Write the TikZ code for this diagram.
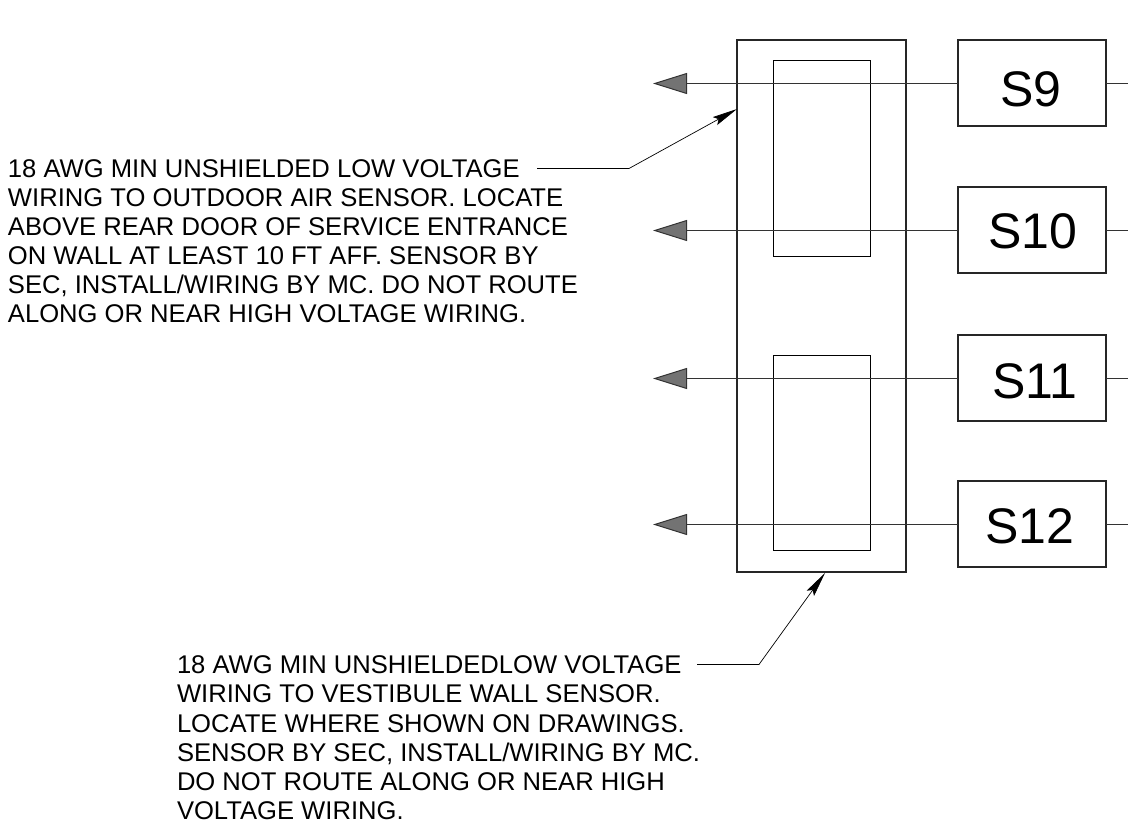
\documentclass[tikz,border=0pt]{standalone}
\usepackage{fontspec}
\setmainfont{Liberation Sans}
\usetikzlibrary{arrows.meta}

\begin{document}
\begin{tikzpicture}[x=1pt, y=-1pt,
    %Styles for the schedule
    >=Stealth,
    inner sep=0pt, outer sep=0pt,
    frame/.style={draw=black!85, line width=1.2pt},
    inset/.style={draw=black, line width=1pt},
    sensor/.style={draw=black!85, line width=1.1pt, minimum width=148pt, minimum height=86pt},
    sensortext/.style={font=\fontsize{50}{50}\selectfont},
    wire/.style={line width=1pt, draw=black!80, -{Triangle[length=34pt, width=21pt, fill=black!55]}},
    stub/.style={line width=1pt, draw=black!80},
    leader/.style={line width=0.7pt, ->, >={Stealth[length=25pt, width=9pt, inset=4pt]}},
    note/.style={anchor=north west, align=left, font=\fontsize{25.6}{29.1}\selectfont},
]
    \useasboundingbox (0,0) rectangle (1128,824);

    % Enclosure
    \node[frame, anchor=north west, minimum width=169pt, minimum height=532pt] (enclosure) at (737,40) {};
    \draw[inset] (773,61) rectangle (870,256);
    \draw[inset] (773,355) rectangle (870,550);

    % Sensors
    \node[sensor, anchor=north west] (s9) at (958,40) {};
    \node[sensor, anchor=north west] (s10) at (958,187) {};
    \node[sensor, anchor=north west] (s11) at (958,335) {};
    \node[sensor, anchor=north west] (s12) at (958,481) {};
    \node[sensortext] (l9) at (1031,89) {S9};
    \node[sensortext] (l10) at (1033,231) {S10};
    \node[sensortext] (l11) at (1035,381) {S11};
    \node[sensortext] (l12) at (1030,526) {S12};

    % Free ends
    \coordinate (t9) at (653,83.5);
    \coordinate (t10) at (653,230.5);
    \coordinate (t11) at (653,378.5);
    \coordinate (t12) at (653,524.5);
    \coordinate (e9) at (1128,83.5);
    \coordinate (e10) at (1128,230.5);
    \coordinate (e11) at (1128,378.5);
    \coordinate (e12) at (1128,524.5);

    \foreach \n in {9,10,11,12} {
        \draw[wire] (s\n.west |- t\n) -- (t\n);
        \draw[stub] (s\n.east |- e\n) -- (e\n);
    }

    % Notes
    \node[note] (noteair) at (8,159.5) {18 AWG MIN UNSHIELDED LOW VOLTAGE\\
        WIRING TO OUTDOOR AIR SENSOR. LOCATE\\
        ABOVE REAR DOOR OF SERVICE ENTRANCE\\
        ON WALL AT LEAST 10 FT AFF. SENSOR BY\\
        SEC, INSTALL/WIRING BY MC. DO NOT ROUTE\\
        ALONG OR NEAR HIGH VOLTAGE WIRING.};
    \node[note] (notewall) at (177,656) {18 AWG MIN UNSHIELDEDLOW VOLTAGE\\
        WIRING TO VESTIBULE WALL SENSOR.\\
        LOCATE WHERE SHOWN ON DRAWINGS.\\
        SENSOR BY SEC, INSTALL/WIRING BY MC.\\
        DO NOT ROUTE ALONG OR NEAR HIGH\\
        VOLTAGE WIRING.};

    % Leaders
    \coordinate (la) at (537,168.5);
    \coordinate (lb) at (629,168.5);
    \coordinate (lc) at (737,109);
    \coordinate (ld) at (697,664.5);
    \coordinate (le) at (759,664.5);
    \coordinate (lf) at (825,573);
    \draw[leader] (la) -- (lb) -- (lc);
    \draw[leader] (ld) -- (le) -- (lf);
\end{tikzpicture}
\end{document}
